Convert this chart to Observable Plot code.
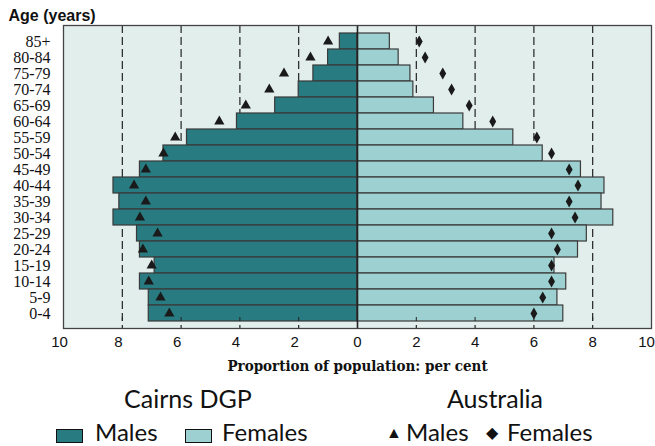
<!DOCTYPE html>
<html>
<head>
<meta charset="utf-8">
<script src="https://cdn.jsdelivr.net/npm/d3@7"></script>
<script src="https://cdn.jsdelivr.net/npm/@observablehq/plot@0.6"></script>
<style>
  html, body { margin: 0; padding: 0; background: #fff; }
  #wrap { width: 655px; height: 446px; position: relative; overflow: hidden; }
  #legend { position: absolute; left: 0; top: 380px; width: 655px; height: 66px; font-family: Lato, "Open Sans", sans-serif; color: #111; }
  #legend span { position: absolute; white-space: nowrap; line-height: 1; }
  .sw { display: inline-block; width: 25px; height: 12px; border: 1.5px solid #111; }
</style>
</head>
<body>
<div id="wrap">
  <div id="chart"></div>
  <div id="legend">
    <span style="left:124px; top:6px; font-size:25px;">Cairns DGP</span>
    <span style="left:56px; top:42px; font-size:24px;"><i class="sw" style="background:#277b81"></i></span>
    <span style="left:95px; top:40px; font-size:24px;">Males</span>
    <span style="left:185px; top:42px; font-size:24px;"><i class="sw" style="background:#9dd0d0"></i></span>
    <span style="left:222px; top:40px; font-size:24px;">Females</span>
    <span style="left:447px; top:6px; font-size:25px;">Australia</span>
    <span style="left:386px; top:44px; font-size:16px;">▲</span>
    <span style="left:406px; top:40px; font-size:24px;">Males</span>
    <span style="left:486px; top:44px; font-size:16px;">◆</span>
    <span style="left:507px; top:40px; font-size:24px;">Females</span>
  </div>
</div>
<script>
const ageGroups = ["85+","80-84","75-79","70-74","65-69","60-64","55-59","50-54","45-49","40-44","35-39","30-34","25-29","20-24","15-19","10-14","5-9","0-4"];
const cairnsMales   = [0.6,1.0,1.5,2.0,2.8,4.1,5.8,6.6,7.4,8.3,8.1,8.3,7.5,7.4,6.9,7.4,7.1,7.1];
const cairnsFemales = [1.1,1.4,1.8,1.9,2.6,3.6,5.3,6.3,7.6,8.4,8.3,8.7,7.8,7.5,6.7,7.1,6.8,7.0];
const ausMales      = [1.0,1.6,2.5,3.0,3.8,4.7,6.2,6.6,7.2,7.6,7.2,7.4,6.8,7.3,7.0,7.1,6.7,6.4];
const ausFemales    = [2.1,2.3,2.9,3.2,3.8,4.6,6.1,6.6,7.2,7.5,7.2,7.4,6.6,6.8,6.6,6.6,6.3,6.0];
const xTicksLeft = [-10,-8,-6,-4,-2];
const xTicksRight = [0,2,4,6,8];
const xTickLast = [10];
const xTicks = [...xTicksLeft, ...xTicksRight, ...xTickLast];
const gridValues = [-8,-6,-4,-2,2,4,6,8];

const rows = ageGroups.map((age, i) => ({
  age,
  cm: cairnsMales[i], cf: cairnsFemales[i],
  am: ausMales[i], af: ausFemales[i]
}));

const tickText = { frameAnchor: "bottom", dy: 18, text: d => String(Math.abs(d)), fontSize: 15, fill: "#111" };

const chart = Plot.plot({
  width: 655,
  height: 380,
  marginTop: 25,
  marginBottom: 52,
  marginLeft: 63,
  marginRight: 4,
  style: { fontFamily: "'Liberation Sans', Arial, sans-serif", background: "#fff", color: "#111" },
  x: { domain: [-10, 10], axis: null },
  y: { domain: ageGroups, padding: 0, axis: null },
  marks: [
    Plot.frame({ fill: "#e2eeec" }),
    Plot.ruleX(gridValues, { stroke: "#111", strokeWidth: 1.1, strokeDasharray: "8,4" }),
    Plot.barX(rows, { y: "age", x1: d => -d.cm, x2: 0, fill: "#277b81", stroke: "#3a3a3a", strokeWidth: 1.2 }),
    Plot.barX(rows, { y: "age", x1: 0, x2: "cf", fill: "#9dd0d0", stroke: "#3a3a3a", strokeWidth: 1.2 }),
    Plot.tickX(xTicks, { x: d => d, y: () => "0-4", insetTop: 12, stroke: "#222" }),
    Plot.ruleX([0], { stroke: "#222", strokeWidth: 1.6 }),
    Plot.dot(rows, { y: "age", x: d => -d.am, symbol: "triangle", r: 3.8, fill: "#1a1a1a", stroke: "none" }),
    Plot.dot(rows, { y: "age", x: "af", symbol: "diamond", r: 3.6, fill: "#1a1a1a", stroke: "none" }),
    Plot.frame({ stroke: "#444", strokeWidth: 1.3 }),
    Plot.text(xTicksLeft, { x: d => d, dx: -4, ...tickText }),
    Plot.text(xTicksRight, { x: d => d, dx: 0, ...tickText }),
    Plot.text(xTickLast, { x: d => d, dx: -5, ...tickText }),
    Plot.text(ageGroups, { y: d => d, frameAnchor: "left", dx: -13, textAnchor: "end", text: d => d, fontSize: 16, fontFamily: "'Liberation Serif', 'Times New Roman', serif", fill: "#111" }),
    Plot.text(["Age (years)"], { frameAnchor: "top-left", dx: -55, dy: -16, text: d => d, fontSize: 16, fontWeight: "bold", textAnchor: "start" }),
    Plot.text(["Proportion of population: per cent"], { frameAnchor: "bottom", dy: 42, text: d => d, fontSize: 15, fontWeight: "bold", fontFamily: "'DejaVu Serif Condensed', 'DejaVu Serif', serif" })
  ]
});
document.getElementById("chart").appendChild(chart);
</script>
</body>
</html>
